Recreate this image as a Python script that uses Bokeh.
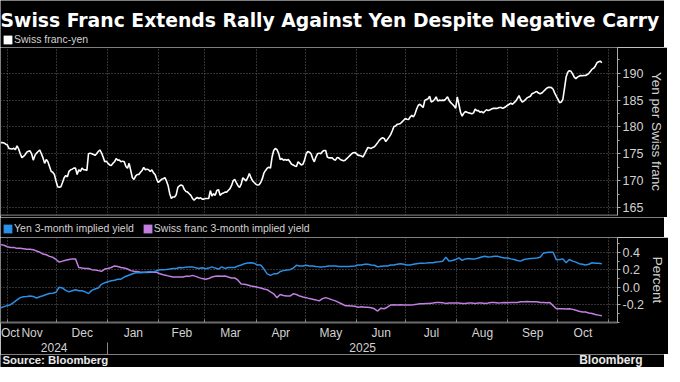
import numpy as np
import pandas as pd
from bokeh.plotting import figure
from bokeh.models import (Range1d, LinearAxis, FixedTicker, Span, Label, Legend,
                          LegendItem, ColumnDataSource, Grid, NumeralTickFormatter)
from bokeh.layouts import column
from bokeh.embed import file_html
from bokeh.resources import INLINE
from bokeh.core.properties import value

FONT = "Liberation Sans"
TITLE_FONT = "DejaVu Sans"

# ---------------- data ----------------
SERIES_START = "2024-10-28"
SERIES_END = "2025-10-28"

chf_jpy = [
    177.08, 177.08, 177.02, 176.79, 176.67, 176.01, 175.95, 175.89, 176.01, 175.77,
    176.49, 175.89, 175.00, 174.29, 174.52, 174.82, 175.30, 175.48, 175.54, 175.00,
    173.81, 174.70, 175.12, 175.42, 175.71, 175.00, 174.23, 173.21, 173.93, 173.51,
    172.62, 171.73, 171.55, 171.13, 169.94, 168.87, 168.75, 168.87, 169.64, 170.54,
    170.95, 170.71, 171.73, 172.02, 172.14, 172.32, 172.32, 171.13, 172.02, 171.73,
    172.32, 172.02, 172.02, 171.90, 175.00, 175.12, 175.00, 174.88, 174.70, 175.00,
    175.42, 175.71, 175.18, 174.40, 173.51, 173.63, 173.21, 172.92, 172.80, 173.21,
    173.51, 174.11, 173.81, 173.81, 173.51, 173.63, 173.51, 172.62, 172.32, 173.21,
    171.90, 170.54, 170.24, 170.83, 171.13, 171.13, 171.55, 171.90, 172.44, 172.02,
    172.14, 172.02, 171.73, 172.02, 171.43, 171.13, 170.24, 169.64, 169.94, 170.24,
    170.36, 170.54, 169.94, 169.05, 167.56, 166.67, 166.96, 166.96, 167.38, 168.75,
    169.05, 169.17, 169.05, 168.33, 167.98, 167.86, 167.56, 167.26, 166.67, 166.37,
    166.67, 166.85, 166.67, 166.79, 166.55, 166.55, 166.67, 166.67, 166.67, 168.15,
    167.14, 167.56, 167.26, 168.15, 168.33, 167.26, 167.56, 167.68, 167.86, 167.86,
    168.15, 168.45, 169.05, 169.94, 170.24, 169.64, 169.05, 168.75, 169.35, 170.54,
    170.24, 169.94, 170.54, 171.31, 170.54, 169.94, 169.64, 169.35, 169.17, 169.23,
    169.64, 170.36, 171.43, 171.90, 172.32, 172.50, 172.32, 174.40, 175.60, 176.01,
    175.77, 175.12, 173.93, 174.11, 173.81, 173.93, 173.81, 173.93, 173.51, 173.04,
    172.92, 172.74, 172.62, 173.51, 173.21, 172.92, 173.04, 173.81, 175.00, 175.42,
    175.30, 175.00, 174.11, 173.51, 174.40, 175.00, 175.12, 175.00, 175.42, 175.60,
    175.60, 174.40, 174.23, 174.23,
    174.23, 173.93, 173.81, 174.29, 174.23, 173.93, 173.81, 173.69, 173.81, 174.11,
    174.40, 174.70, 175.00, 175.18, 175.24, 175.00, 174.70, 174.70, 174.58, 174.40,
    175.00, 175.60, 176.19, 176.07, 176.01, 176.19, 176.31, 176.67, 177.08, 177.50,
    177.80, 177.98, 177.86, 177.26, 177.68, 178.10, 178.57, 179.29, 180.06, 180.18,
    180.48, 180.54, 180.65, 180.95, 181.25, 181.55, 181.43, 181.37, 181.85, 182.14,
    181.85, 182.44, 183.33, 184.05, 184.23, 183.93, 183.63, 184.94, 185.12, 185.24,
    185.71, 184.64, 184.82, 185.12, 185.60, 184.82, 185.00, 184.94, 185.00, 184.94,
    185.24, 185.60, 184.94, 184.52, 184.23, 183.93, 183.45, 185.60, 184.23, 182.74,
    182.02, 182.56, 182.86, 182.74, 182.62, 182.56, 182.44, 182.62, 183.33, 183.04,
    183.04, 182.74, 182.86, 182.62, 182.92, 183.21, 183.04, 183.15, 183.33, 183.45,
    183.45, 183.45, 183.51, 183.63, 183.63, 183.45, 183.63, 183.81, 184.05, 184.23,
    184.40, 184.23, 184.52, 184.82, 185.30, 185.83, 185.12, 184.64, 184.82, 185.12,
    185.42, 185.60, 185.71, 186.19, 186.31, 186.49, 186.61, 186.31, 186.19, 186.31,
    186.61, 186.90, 187.20, 187.38, 187.38, 187.32, 187.02, 186.31, 185.71, 185.12,
    184.52, 184.64, 185.12, 187.20, 189.29, 190.18, 190.48, 190.36, 189.88, 189.29,
    188.99, 189.29, 189.46, 189.58, 189.52, 189.58, 189.58, 189.76, 190.00, 190.36,
    190.77, 190.95, 191.37, 191.96, 192.14, 192.26, 191.96,
]

yen_yield = [
    -0.236, -0.222, -0.211, -0.200, -0.174, -0.145, -0.119, -0.108, -0.105, -0.101,
    -0.105, -0.123, -0.108, -0.097, -0.083, -0.072, -0.068, -0.057, 0.001, -0.009,
    -0.035, -0.053, -0.039, -0.028, -0.039, -0.039, -0.053, -0.072, -0.035, -0.020,
    -0.009, 0.034, 0.053, 0.064, 0.075, 0.082, 0.093, 0.093, 0.118, 0.133,
    0.148, 0.162, 0.170, 0.166, 0.170, 0.177, 0.181, 0.177, 0.192, 0.203,
    0.203, 0.206, 0.210, 0.217, 0.217, 0.228, 0.225, 0.232, 0.235, 0.235,
    0.225, 0.217, 0.225, 0.214, 0.221, 0.235, 0.221, 0.210, 0.235, 0.217,
    0.228, 0.228, 0.228, 0.246, 0.257, 0.272, 0.279, 0.283, 0.276, 0.257,
    0.257, 0.210, 0.155, 0.137, 0.155, 0.155, 0.181, 0.192, 0.199, 0.203,
    0.221, 0.254, 0.246, 0.246, 0.254, 0.246, 0.246, 0.239, 0.235, 0.235,
    0.239, 0.246,
    0.246, 0.246, 0.239, 0.239, 0.239, 0.239, 0.243, 0.246, 0.257, 0.257,
    0.265, 0.265, 0.257, 0.254, 0.235, 0.243, 0.246, 0.246, 0.257, 0.257,
    0.265, 0.272, 0.265, 0.257, 0.257, 0.265, 0.272, 0.276, 0.276, 0.279,
    0.283, 0.283, 0.290, 0.294, 0.301, 0.345, 0.301, 0.309, 0.320, 0.338,
    0.309, 0.327, 0.331, 0.327, 0.327, 0.338, 0.349, 0.356, 0.349, 0.352,
    0.356, 0.356, 0.345, 0.338, 0.338, 0.327, 0.320, 0.309, 0.301, 0.320,
    0.327, 0.331, 0.334, 0.338, 0.345, 0.393, 0.400, 0.404, 0.404, 0.316,
    0.320, 0.327, 0.283, 0.320, 0.301, 0.290, 0.272, 0.265, 0.257, 0.265,
    0.283, 0.276, 0.276, 0.272,
]

chf_yield = [
    0.491, 0.484, 0.466, 0.458, 0.458, 0.448, 0.448, 0.444, 0.437, 0.437,
    0.433, 0.418, 0.404, 0.382, 0.374, 0.356, 0.345, 0.320, 0.290, 0.301,
    0.312, 0.320, 0.327, 0.327, 0.228, 0.221, 0.217, 0.217, 0.203, 0.199,
    0.192, 0.184, 0.210, 0.217, 0.228, 0.246, 0.239, 0.228, 0.221, 0.210,
    0.192, 0.184, 0.181, 0.173, 0.173, 0.170, 0.173, 0.173, 0.173, 0.155,
    0.144, 0.137, 0.126, 0.118, 0.118, 0.118, 0.118, 0.126, 0.126, 0.137,
    0.126, 0.111, 0.100, 0.093, 0.100, 0.118, 0.126, 0.129, 0.126, 0.129,
    0.118, 0.108, 0.108, 0.082, 0.038, 0.034, 0.027, 0.016, 0.009, 0.001,
    -0.009, -0.020, -0.028, -0.053, -0.075, -0.119, -0.083, -0.094, -0.101, -0.101,
    -0.075, -0.083, -0.101, -0.112, -0.119, -0.130, -0.137, -0.145, -0.156, -0.130,
    -0.119, -0.130,
    -0.145, -0.156, -0.174, -0.192, -0.211, -0.211, -0.214, -0.218, -0.229, -0.225,
    -0.229, -0.229, -0.236, -0.247, -0.273, -0.240, -0.247, -0.229, -0.203, -0.200,
    -0.203, -0.200, -0.203, -0.203, -0.203, -0.200, -0.196, -0.189, -0.189, -0.185,
    -0.185, -0.181, -0.174, -0.174, -0.178, -0.185, -0.181, -0.181, -0.181, -0.181,
    -0.185, -0.185, -0.181, -0.181, -0.185, -0.181, -0.181, -0.185, -0.181, -0.174,
    -0.174, -0.181, -0.178, -0.174, -0.178, -0.174, -0.174, -0.174, -0.167, -0.167,
    -0.163, -0.167, -0.167, -0.167, -0.174, -0.174, -0.178, -0.174, -0.211, -0.247,
    -0.247, -0.247, -0.251, -0.247, -0.254, -0.265, -0.276, -0.284, -0.284, -0.295,
    -0.302, -0.313, -0.320, -0.328,
]

TITLE = "Swiss Franc Extends Rally Against Yen Despite Negative Carry"
LEGEND_TOP = ["Swiss franc-yen"]
LEGEND_BOTTOM = ["Yen 3-month implied yield", "Swiss franc 3-month implied yield"]
AXIS_TOP_LABEL = "Yen per Swiss franc"
AXIS_BOTTOM_LABEL = "Percent"
SOURCE = "Source: Bloomberg"
BRAND = "Bloomberg"

X_START = "2024-10-27 20:00"
X_END = "2025-11-06 12:00"
TOP_RANGE = (163.5, 194.8)
BOTTOM_RANGE = (-0.405, 0.573)
top_ticks = [165, 170, 175, 180, 185, 190]
top_minor = [167.5, 172.5, 177.5, 182.5, 187.5, 192.5]
bottom_ticks = [-0.2, 0.0, 0.2, 0.4]
bottom_minor = [-0.4, -0.3, -0.1, 0.1, 0.3, 0.5]
month_labels = ["Oct", "Nov", "Dec", "Jan", "Feb", "Mar", "Apr", "May", "Jun",
                "Jul", "Aug", "Sep", "Oct"]
year_labels = ["2024", "2025"]

WHITE = "#ffffff"
BLUE = "#2b8fe6"
PURPLE = "#c27ee0"
GRID = "#666666"
TXT = "#d2d2d2"
BG = "#000000"


def to_ms(ts):
    return float(pd.Timestamp(ts).value // 10**6)


def series_ms(n):
    idx = pd.date_range(SERIES_START, SERIES_END, periods=n)
    return (idx.asi8 // 10**6).astype(float)


boundaries = pd.date_range("2024-11-01", "2025-11-01", freq="MS")
boundary_ms = [to_ms(b) for b in boundaries]
month_mid = [to_ms("2024-11-02 18:00")]
for i in range(len(boundaries) - 1):
    month_mid.append(to_ms(boundaries[i] + (boundaries[i + 1] - boundaries[i]) / 2))
jan1 = pd.Timestamp("2025-01-01")
xs, xe = pd.Timestamp(X_START), pd.Timestamp(X_END)
year_mid = [to_ms(xs + (jan1 - xs) / 2), to_ms(jan1 + (xe - jan1) / 2)]

W = 664
FW = 617
FH1 = 168
FH2 = 85
RB = 47
HEAD_H = 47
MID_H = 20
P2_BOTTOM = 31
FOOT_H = 13

x_range = Range1d(to_ms(X_START), to_ms(X_END))


def blank_fig(h):
    p = figure(x_range=Range1d(0, 1), y_range=Range1d(0, 1), frame_width=W, frame_height=h,
               x_axis_location=None, y_axis_location=None, min_border=0,
               background_fill_color=BG, border_fill_color=BG, outline_line_color=None,
               toolbar_location=None, output_backend="svg")
    p.grid.visible = False
    return p


def make_legend(p, labels, colors, vy):
    items = []
    for lab, col in zip(labels, colors):
        # legend swatch only: a zero-size quad kept outside the visible 0..1 range
        r = p.quad(left=[-1], right=[-1], top=[-1], bottom=[-1], fill_color=col,
                   line_color=None)
        items.append(LegendItem(label=lab, renderers=[r]))
    leg = Legend(items=items, location=(2, vy), orientation="horizontal",
                 background_fill_alpha=0, border_line_color=None,
                 label_text_color=TXT, label_text_font=FONT, label_text_font_size="10.5px",
                 glyph_width=11, glyph_height=11, label_height=12, label_standoff=1,
                 spacing=8, padding=0, margin=0)
    p.add_layout(leg, "center")


def style_right_axis(ax, label):
    ax.axis_line_color = "#aaaaaa"
    ax.major_tick_line_color = "#aaaaaa"
    ax.minor_tick_line_color = "#aaaaaa"
    ax.major_tick_in = 0
    ax.major_tick_out = 3
    ax.minor_tick_in = 0
    ax.minor_tick_out = 2
    ax.major_label_text_color = TXT
    ax.major_label_text_font = FONT
    ax.major_label_text_font_size = "12.5px"
    ax.major_label_standoff = 2
    ax.axis_label = label
    ax.axis_label_text_font = FONT
    ax.axis_label_text_font_size = "13.5px"
    ax.axis_label_text_font_style = "normal"
    ax.axis_label_text_color = TXT
    ax.axis_label_standoff = 3


def panel_fig(fh, yr, bottom):
    p = figure(x_range=x_range, y_range=Range1d(*yr), frame_width=FW, frame_height=fh,
               x_axis_location=None, y_axis_location="right",
               min_border_left=0, min_border_right=RB, min_border_top=0,
               min_border_bottom=bottom, background_fill_color=BG,
               border_fill_color=BG, outline_line_color=None,
               toolbar_location=None, output_backend="svg")
    for g in p.xgrid:
        g.visible = False
    p.add_layout(Grid(dimension=0, ticker=FixedTicker(ticks=boundary_ms),
                      grid_line_color=GRID, grid_line_dash="1 2", grid_line_width=1))
    p.ygrid.grid_line_color = GRID
    p.ygrid.grid_line_dash = "1 2"
    return p


# ---------------- header: title + legend ----------------
head = blank_fig(HEAD_H)
head.add_layout(Label(x=0, y=HEAD_H - 20, x_units="screen", y_units="screen", text=TITLE,
                      text_color=WHITE, text_font=TITLE_FONT, text_font_style="bold",
                      text_font_size="18.8px", text_baseline="alphabetic"))
make_legend(head, LEGEND_TOP, [WHITE], 2)

# ---------------- top panel ----------------
p1 = panel_fig(FH1, TOP_RANGE, 2)
p1.yaxis.ticker = FixedTicker(ticks=top_ticks, minor_ticks=top_minor)
p1.ygrid.ticker = FixedTicker(ticks=top_ticks)
style_right_axis(p1.yaxis[0], AXIS_TOP_LABEL)
src1 = ColumnDataSource(dict(x=series_ms(len(chf_jpy)), y=chf_jpy))
p1.line("x", "y", source=src1, line_color=WHITE, line_width=1.6)
p1.add_layout(Span(location=TOP_RANGE[0], dimension="width", line_color="#6a6a6a",
                   line_width=2))

# ---------------- middle: legend ----------------
mid = blank_fig(MID_H)
make_legend(mid, LEGEND_BOTTOM, [BLUE, PURPLE], 3)

# ---------------- bottom panel ----------------
p2 = panel_fig(FH2, BOTTOM_RANGE, P2_BOTTOM)
p2.yaxis.ticker = FixedTicker(ticks=bottom_ticks, minor_ticks=bottom_minor)
p2.yaxis.formatter = NumeralTickFormatter(format="0.0")
p2.ygrid.ticker = FixedTicker(ticks=bottom_ticks)
style_right_axis(p2.yaxis[0], AXIS_BOTTOM_LABEL)
src_y = ColumnDataSource(dict(x=series_ms(len(yen_yield)), y=yen_yield))
src_c = ColumnDataSource(dict(x=series_ms(len(chf_yield)), y=chf_yield))
p2.line("x", "y", source=src_c, line_color=PURPLE, line_width=1.5)
p2.line("x", "y", source=src_y, line_color=BLUE, line_width=1.5)

month_axis = LinearAxis(
    ticker=FixedTicker(ticks=month_mid, minor_ticks=boundary_ms),
    major_label_overrides={k: v for k, v in zip(month_mid, month_labels)},
    major_tick_line_color=None, major_tick_in=0, major_tick_out=0,
    minor_tick_in=3, minor_tick_out=0, minor_tick_line_color="#888888",
    axis_line_color="#6a6a6a", axis_line_width=2, major_label_standoff=3,
    major_label_text_font=FONT, major_label_text_font_size="12px",
    major_label_text_color=TXT)
p2.add_layout(month_axis, "below")

year_axis = LinearAxis(
    ticker=FixedTicker(ticks=year_mid, minor_ticks=[to_ms(jan1)]),
    major_label_overrides={k: v for k, v in zip(year_mid, year_labels)},
    axis_line_color=None, major_tick_line_color=None, major_tick_in=0, major_tick_out=0,
    minor_tick_in=0, minor_tick_out=13, minor_tick_line_color="#888888",
    minor_tick_line_width=1,
    major_label_standoff=-13, major_label_text_font=FONT, major_label_text_font_size="12px",
    major_label_text_color=TXT)
p2.add_layout(year_axis, "below")

# ---------------- footer ----------------
foot = blank_fig(FOOT_H)
foot.add_layout(Label(x=2, y=FOOT_H - 5, x_units="screen", y_units="screen", text=SOURCE,
                      text_color="#e8e8e8", text_font=FONT, text_font_style="bold",
                      text_font_size="11.4px", text_baseline="middle"))
foot.add_layout(Label(x=FW + 25, y=FOOT_H - 5, x_units="screen", y_units="screen", text=BRAND,
                      text_color="#e8e8e8", text_font=FONT, text_font_style="bold",
                      text_font_size="12px", text_baseline="middle", text_align="right"))

layout = column(head, p1, mid, p2, foot, spacing=0)
open("out.html", "w").write(file_html(layout, INLINE))
